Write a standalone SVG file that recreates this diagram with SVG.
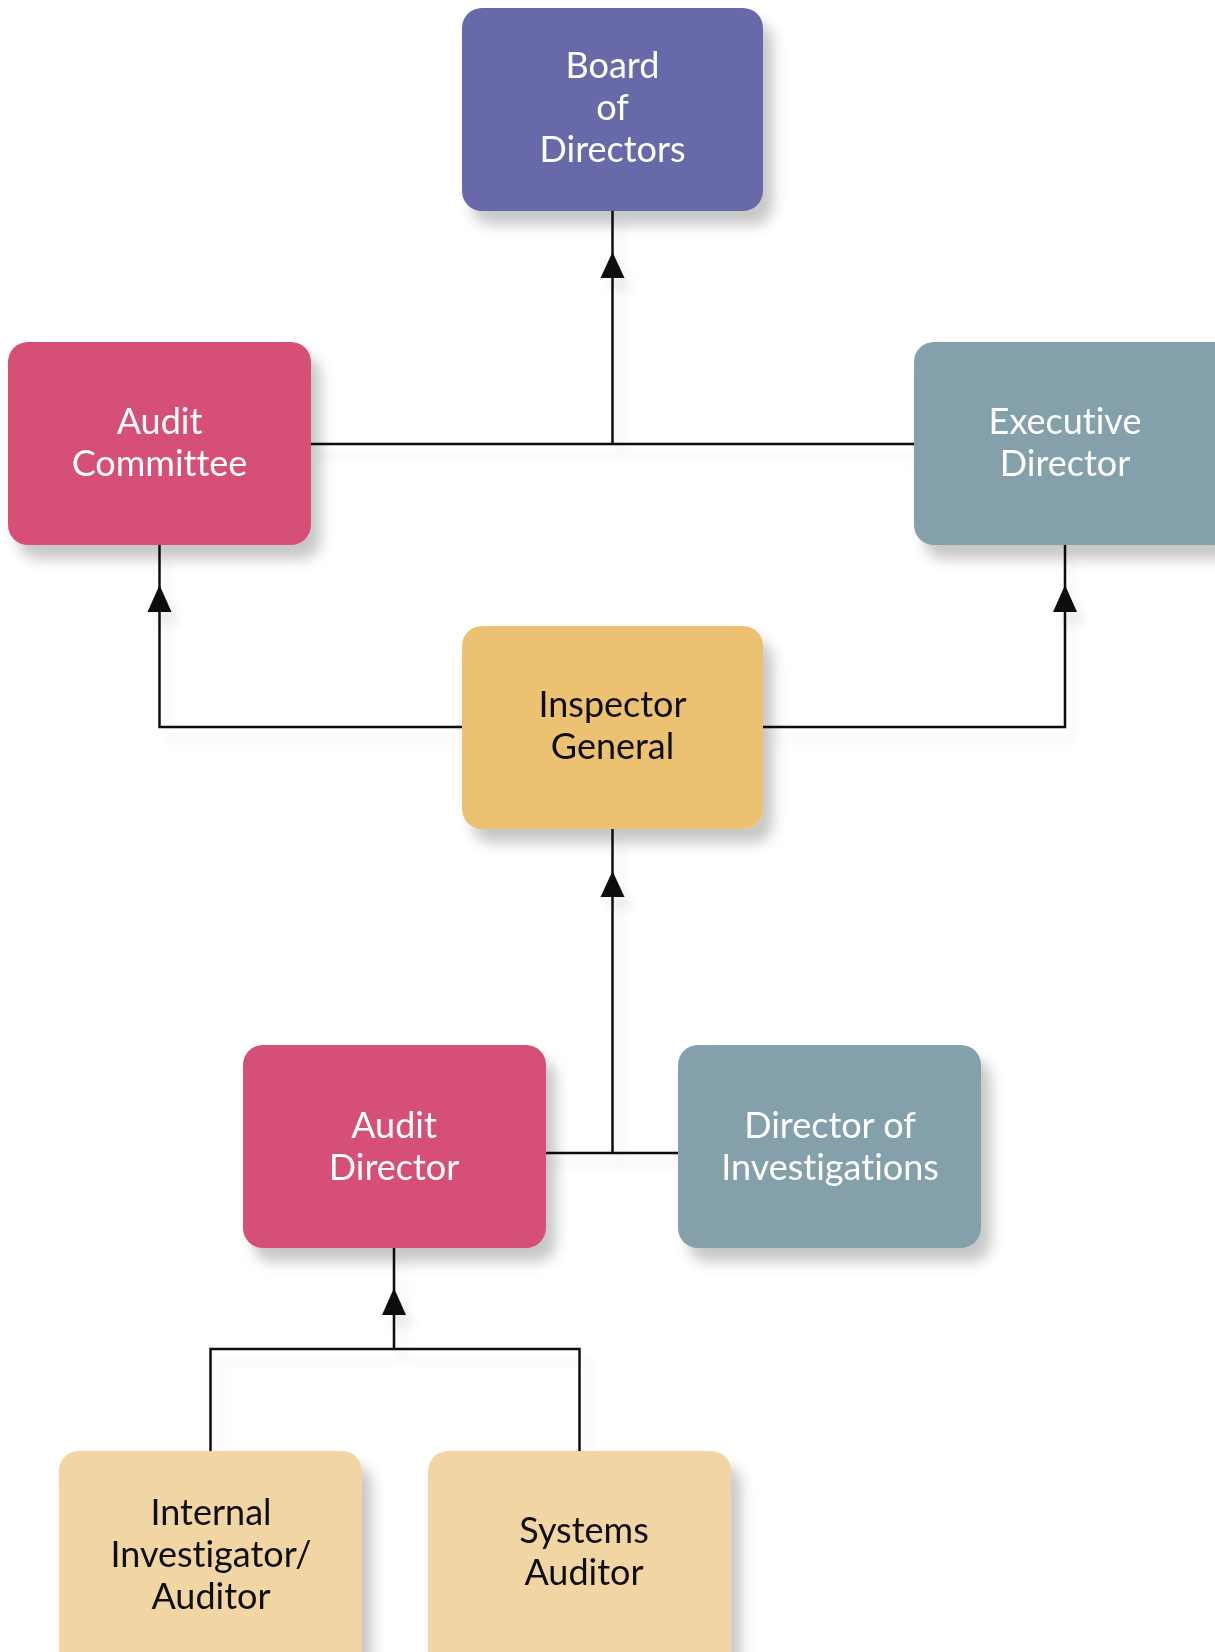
<svg xmlns="http://www.w3.org/2000/svg" width="1215" height="1652" viewBox="0 0 1215 1652">
<style>
  .lbl { font-family: "Lato", "Liberation Sans", sans-serif; font-size: 36px; font-weight: 400; text-anchor: middle; font-variant-ligatures: none; }
  .w { fill: #ffffff; }
  .k { fill: #111111; }
  .conn { fill: none; stroke: #111111; stroke-width: 2.5; }
  .arr { fill: #111111; }
</style>
<defs>
  <filter id="sh" x="-20%" y="-20%" width="150%" height="150%">
    <feDropShadow dx="10" dy="14" stdDeviation="7" flood-color="#000000" flood-opacity="0.22"/>
  </filter>
  <filter id="lsh" x="-50%" y="-50%" width="200%" height="200%">
    <feDropShadow dx="8" dy="12" stdDeviation="5" flood-color="#000000" flood-opacity="0.08"/>
  </filter>
</defs>
<rect width="1215" height="1652" fill="#ffffff"/>
<g id="connectors" filter="url(#lsh)">
  <path class="conn" d="M612.5 211 V444 M311 444 H914"/>
  <polygon class="arr" points="612.5,252 600.5,278 624.5,278"/>
  <path class="conn" d="M159.5 545 V727 H462 M763 727 H1065 V545"/>
  <polygon class="arr" points="159.5,585 147.5,612 171.5,612"/>
  <polygon class="arr" points="1065,585 1053,612 1077,612"/>
  <path class="conn" d="M612.5 829 V1153 M545 1153 H678"/>
  <polygon class="arr" points="612.5,871 600.5,897 624.5,897"/>
  <path class="conn" d="M394 1248 V1349 M210.5 1451 V1349 H579.5 V1451"/>
  <polygon class="arr" points="394,1288 382,1315 406,1315"/>
</g>
<g id="board" filter="url(#sh)">
  <rect x="462" y="8" width="301" height="203" rx="20" fill="#6769A9"/>
  <text class="lbl w" x="612.5" y="78">Board</text>
  <text class="lbl w" x="612.5" y="120">of</text>
  <text class="lbl w" x="612.5" y="162">Directors</text>
</g>
<g id="audit-committee" filter="url(#sh)">
  <rect x="8" y="342" width="303" height="203" rx="20" fill="#D64F76"/>
  <text class="lbl w" x="159.5" y="434">Audit</text>
  <text class="lbl w" x="159.5" y="476">Committee</text>
</g>
<g id="executive-director" filter="url(#sh)">
  <rect x="914" y="342" width="321" height="203" rx="20" fill="#84A0AA"/>
  <text class="lbl w" x="1065" y="434">Executive</text>
  <text class="lbl w" x="1065" y="476">Director</text>
</g>
<g id="inspector-general" filter="url(#sh)">
  <rect x="462" y="626" width="301" height="203" rx="20" fill="#ECC272"/>
  <text class="lbl k" x="612.5" y="717">Inspector</text>
  <text class="lbl k" x="612.5" y="759">General</text>
</g>
<g id="audit-director" filter="url(#sh)">
  <rect x="243" y="1045" width="303" height="203" rx="20" fill="#D64F76"/>
  <text class="lbl w" x="394" y="1138">Audit</text>
  <text class="lbl w" x="394" y="1180">Director</text>
</g>
<g id="director-of-investigations" filter="url(#sh)">
  <rect x="678" y="1045" width="303" height="203" rx="20" fill="#84A0AA"/>
  <text class="lbl w" x="830" y="1138">Director of</text>
  <text class="lbl w" x="830" y="1180">Investigations</text>
</g>
<g id="internal-investigator" filter="url(#sh)">
  <rect x="59" y="1451" width="303" height="223" rx="20" fill="#F1D6A3"/>
  <text class="lbl k" x="211" y="1525">Internal</text>
  <text class="lbl k" x="211" y="1567">Investigator/</text>
  <text class="lbl k" x="211" y="1609">Auditor</text>
</g>
<g id="systems-auditor" filter="url(#sh)">
  <rect x="428" y="1451" width="303" height="223" rx="20" fill="#F1D6A3"/>
  <text class="lbl k" x="584" y="1543">Systems</text>
  <text class="lbl k" x="584" y="1585">Auditor</text>
</g>
</svg>
